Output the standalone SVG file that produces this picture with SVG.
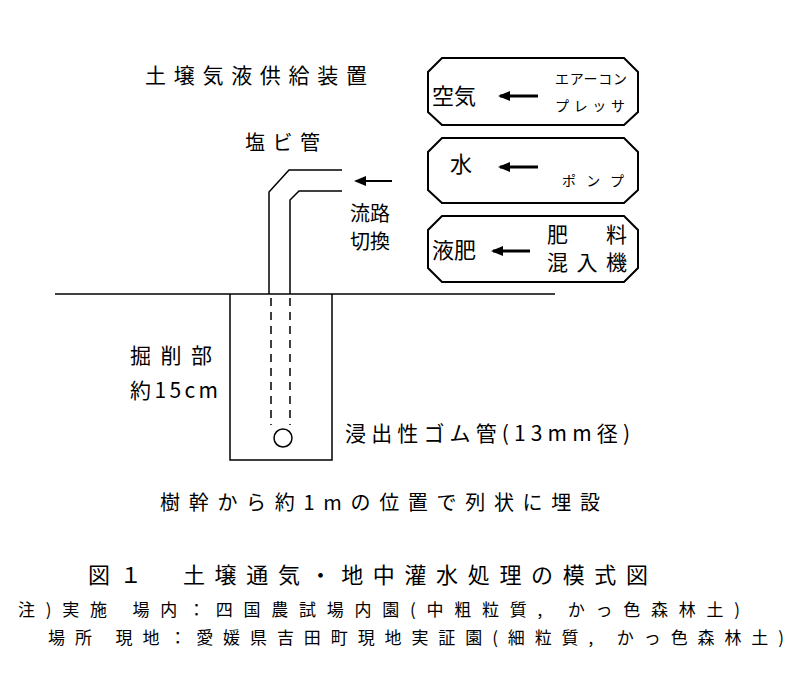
<svg xmlns="http://www.w3.org/2000/svg" width="800" height="692" viewBox="0 0 800 692">
<style>
text{font-family:"Noto Sans CJK JP","Noto Sans CJK SC",sans-serif;fill:#000}
.l{fill:none;stroke:#000;stroke-width:1.5}
.b{fill:#fff;stroke:#000;stroke-width:2}
.r{stroke:#000;stroke-width:3}
</style>
<defs><marker id="a" markerWidth="12" markerHeight="10" refX="10" refY="5" orient="auto" markerUnits="userSpaceOnUse"><path d="M0,0 L12,5 L0,10 Z"/></marker></defs>
<rect width="800" height="692" fill="#fff"/>
<text x="145" y="83" font-size="21" textLength="222" lengthAdjust="spacing">土壌気液供給装置</text>
<g id="box1"><path class="b" d="M442,58 H624 L638,72 V112 L624,125 H442 L428,112 V72 Z"/>
<text x="432" y="104" font-size="22">空気</text><text x="555" y="84" font-size="14" textLength="72" lengthAdjust="spacing">エアーコン</text><text x="555" y="111" font-size="14" textLength="70" lengthAdjust="spacing">プレッサ</text></g>
<g id="box2"><path class="b" d="M442,138 H624 L638,152 V190 L624,203 H442 L428,190 V152 Z"/>
<text x="450" y="172" font-size="22">水</text><text x="562" y="186" font-size="14" textLength="62" lengthAdjust="spacing">ポンプ</text></g>
<g id="box3"><path class="b" d="M442,216 H624 L638,230 V268 L624,282 H442 L428,268 V230 Z"/>
<text x="432" y="258" font-size="22">液肥</text><text x="547" y="242" font-size="21" textLength="80" lengthAdjust="spacing">肥　料</text><text x="547" y="270" font-size="21" textLength="80" lengthAdjust="spacing">混入機</text></g>
<text x="245" y="150" font-size="20" textLength="75" lengthAdjust="spacing">塩ビ管</text>
<text x="350" y="221" font-size="20">流路</text><text x="350" y="249" font-size="20">切換</text>
<text x="130" y="363" font-size="21" textLength="82" lengthAdjust="spacing">掘削部</text><text x="130" y="398" font-size="21" textLength="88" lengthAdjust="spacing">約15cm</text>
<text x="345" y="441" font-size="21" textLength="285" lengthAdjust="spacing">浸出性ゴム管(13mm径)</text>
<text x="160" y="510" font-size="20" textLength="440" lengthAdjust="spacing">樹幹から約1mの位置で列状に埋設</text>
<text x="88" y="583" font-size="22" textLength="560" lengthAdjust="spacing">図１　土壌通気・地中灌水処理の模式図</text>
<text x="18" y="616" font-size="17" textLength="722" lengthAdjust="spacing">注)実施 場内：四国農試場内園(中粗粒質, かっ色森林土)</text>
<text x="48" y="644" font-size="17" textLength="736" lengthAdjust="spacing">場所 現地：愛媛県吉田町現地実証園(細粒質, かっ色森林土)</text>
<g id="connectors">
<line class="l" x1="55" y1="294" x2="555" y2="294"/>
<path class="l" d="M230,294 V460 H332 V294"/>
<path class="l" d="M269,294 V192 L289,170 H342"/>
<path class="l" d="M290,294 V200 L299,191 H342"/>
<path class="l" stroke-dasharray="8,6" d="M271,298 V425 M290,298 V425"/>
<circle class="l" cx="283" cy="438" r="9"/>
<line x1="392" y1="181" x2="356" y2="181" stroke="#000" stroke-width="2" marker-end="url(#a)"/>
<line class="r" x1="538" y1="96" x2="500" y2="96" marker-end="url(#a)"/>
<line class="r" x1="538" y1="167" x2="500" y2="167" marker-end="url(#a)"/>
<line class="r" x1="530" y1="251" x2="493" y2="251" marker-end="url(#a)"/>
</g>
</svg>
